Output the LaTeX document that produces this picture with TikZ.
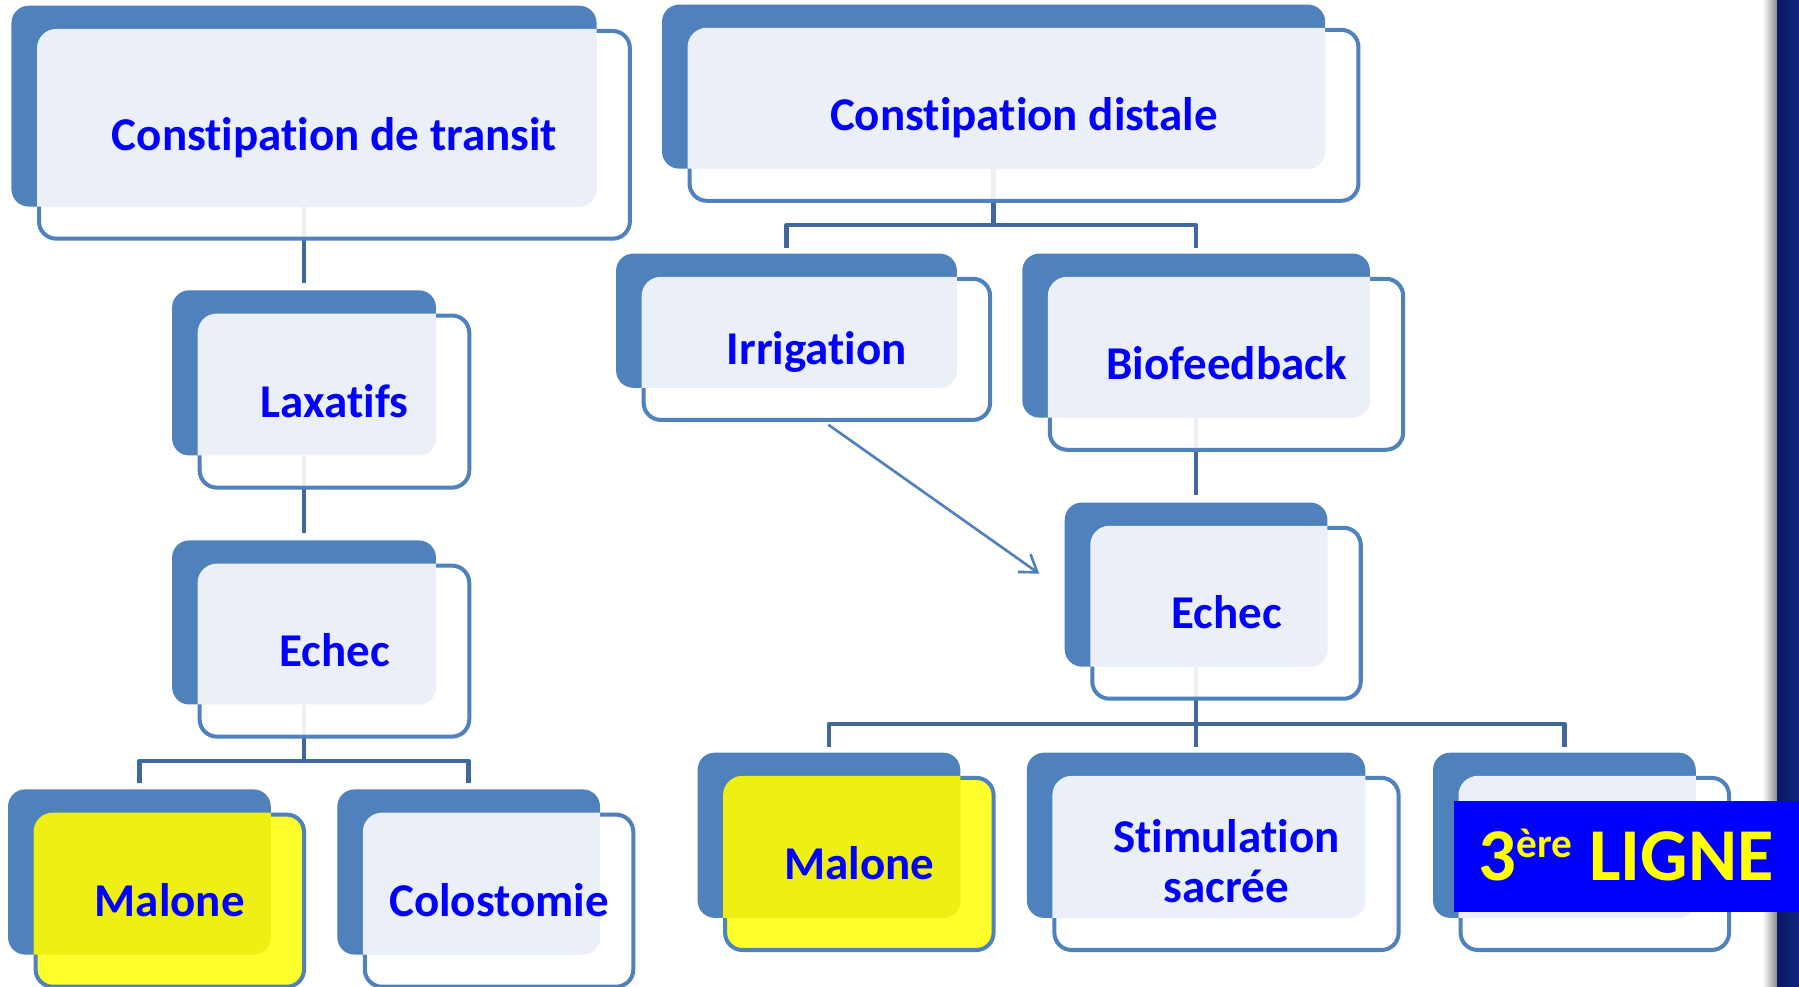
\documentclass[tikz,border=0pt]{standalone}
\usepackage{fontspec}
\setmainfont{Carlito}[Ligatures={NoCommon,NoContextual}, RawFeature={-liga;-clig;-dlig}]
\usetikzlibrary{arrows.meta,backgrounds,calc}
\definecolor{backc}{HTML}{4F81BD}
\definecolor{borderc}{HTML}{4F81BD}
\definecolor{connc}{HTML}{41689C}
\definecolor{lightov}{HTML}{EBF0F8}
\definecolor{yel}{HTML}{FFFF14}
\definecolor{yelov}{HTML}{EEF014}
\definecolor{txtc}{HTML}{0000FF}
\definecolor{navyA}{HTML}{0A1866}
\definecolor{navyB}{HTML}{13237E}
\definecolor{pureblue}{HTML}{0000FF}
\definecolor{yeltxt}{HTML}{FFFF00}
\tikzset{
  backbox/.style={fill=backc, rounded corners=15pt},
  frontborder/.style={draw=borderc, line width=3.5pt, rounded corners=15pt},
  conn/.style={draw=connc, line width=4pt, line join=round},
  arr/.style={draw=borderc, line width=2.3pt, -{Straight Barb[length=14pt,width=19pt]}},
  lbl/.style={text=txtc, font=\bfseries\fontsize{41}{44}\selectfont, align=center,
    inner sep=0pt, text height=34pt, text depth=7pt},
}
\newcommand{\tbox}[9]{%
  \node[inner sep=0pt, minimum width={#4-#2}, minimum height={#5-#3}] (#1) at ({(#2+#4)/2},{(#3+#5)/2}) {};
  \fill[backbox] (#2,#3) rectangle (#4,#5);
  \fill[#6, fill opacity=0.9, rounded corners=15pt] (#2+24,#3+22) rectangle (#4+29,#5+28);
  \draw[frontborder] (#2+24,#3+22) rectangle (#4+29,#5+28);
  \begin{scope}
    \clip[rounded corners=16.75pt] (#2+22.25,#3+20.25) rectangle (#4+30.75,#5+29.75);
    \fill[#7, rounded corners=15pt] (#2,#3) rectangle (#4,#5);
  \end{scope}
  \node[lbl, minimum width={#4-#2+5}, minimum height={#5-#3+6}, #9] (#1t) at ({(#2+#4)/2+26.5},{(#3+#5)/2+25}) {#8};
}
\begin{document}
\begin{tikzpicture}[x=1pt,y=-1pt]
\useasboundingbox (0,0) rectangle (1568,860);
\begin{pgfonlayer}{background}
  \fill[white] (0,0) rectangle (1568,860);
\end{pgfonlayer}

\tbox{A}{10}{5}{520}{180}{white}{lightov}{Constipation de transit}{}
\tbox{B}{150}{253}{380}{397}{white}{lightov}{Laxatifs}{}
\tbox{C}{150}{471}{380}{614}{white}{lightov}{Echec}{}
\tbox{D}{7}{688}{236}{832}{yel}{yelov}{Malone}{}
\tbox{E}{294}{688}{523}{832}{white}{lightov}{Colostomie}{}
\tbox{F}{577}{4}{1155}{147}{white}{lightov}{Constipation distale}{}
\tbox{G}{537}{221}{834}{338}{white}{lightov}{Irrigation}{}
\tbox{H}{891}{221}{1194}{364}{white}{lightov}{Biofeedback}{}
\tbox{I}{928}{438}{1157}{581}{white}{lightov}{Echec}{}
\tbox{J}{608}{656}{837}{800}{yel}{yelov}{Malone}{}
\tbox{K}{895}{656}{1190}{800}{white}{lightov}{Stimulation\\sacrée}{text height=78pt, text depth=10pt}
\tbox{L}{1249}{656}{1478}{800}{white}{lightov}{}{}

\coordinate (forkC) at ($(C.south)+(0,49)$);
\coordinate (forkF) at ($(F.south)+(0,49)$);
\coordinate (forkI) at ($(I.south)+(0,50)$);

\begin{pgfonlayer}{background}
  \draw[conn, shorten >=6pt] (A.south) -- (B.north);
  \draw[conn, shorten >=6pt] (B.south) -- (C.north);
  \draw[conn] (C.south) -- (forkC);
  \draw[conn] ([yshift=5pt]D.north) |- (forkC) -| ([yshift=5pt]E.north);
  \draw[conn] (F.south) -- (forkF);
  \draw[conn] ([yshift=5pt]G.north) |- (forkF) -| ([yshift=5pt]H.north);
  \draw[conn, shorten >=6pt] (H.south) -- (I.north);
  \draw[conn] (I.south) -- (forkI);
  \draw[conn] ([yshift=5pt]J.north) |- (forkI) -| ([yshift=5pt]L.north);
  \draw[conn] (forkI) -- ([yshift=5pt]K.north);
\end{pgfonlayer}

\draw[arr] ([xshift=10pt,yshift=-4pt]Gt.south) -- ([xshift=-22pt,yshift=9.5pt]I.west);

% right edge band
\shade[left color=white, right color=black!45] (1536,0) rectangle (1549,860);
\shade[left color=navyA, right color=navyB] (1549,0) rectangle (1568,860);

\node[fill=pureblue, inner sep=0pt, minimum width=301pt, minimum height=97pt,
  text=yeltxt, font=\bfseries\fontsize{65}{65}\selectfont, text height=41pt, text depth=0pt]
  (ligne) at (1417.5,746.5) {3\raisebox{20pt}{\fontsize{36}{36}\selectfont ère} LIGNE};
\end{tikzpicture}
\end{document}
